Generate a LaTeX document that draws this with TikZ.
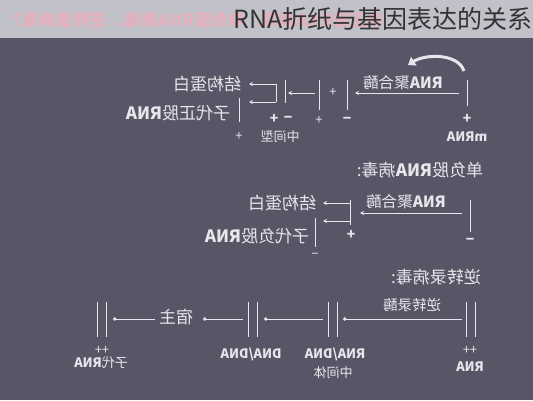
\documentclass[tikz,border=0pt]{standalone}
\usepackage{fontspec}
\setmainfont{Noto Sans CJK SC}
\usetikzlibrary{arrows.meta, positioning}
\definecolor{bgslate}{RGB}{86,86,102}
\definecolor{banner}{RGB}{192,193,201}
\definecolor{pinktxt}{RGB}{228,176,190}
\definecolor{strand}{RGB}{230,230,236}

\tikzset{
  flip/.style={xscale=-1, text=strand, inner sep=1pt},
  lbl/.style={flip, font=\fontsize{17}{17}\selectfont},
  enz/.style={flip, font=\fontsize{15.5}{15.5}\selectfont},
  sml/.style={flip, font=\fontsize{13}{13}\selectfont},
  sgn/.style={flip, font=\bfseries\fontsize{14}{14}\selectfont},
  strandline/.style={draw=strand, line width=0.9pt},
  flow/.style={draw=strand, line width=0.9pt, -{Stealth[length=4pt,width=4pt]}},
  dotflow/.style={draw=strand, line width=0.9pt, -{Circle[length=3.5pt]}},
}

\begin{document}
\begin{tikzpicture}[x=1pt, y=-1pt]
    % 背景
    \fill[bgslate] (0,0) rectangle (533,400);
    \fill[banner] (0,0) rectangle (533,38);
    \useasboundingbox (0,0) rectangle (533,400);
    \node[xscale=-1, anchor=east, inner sep=0, text=pinktxt, font=\bfseries\fontsize{17}{17}\selectfont] (ghost) at (5,20) {单正股RNA病毒、单负股RNA病毒、逆转录病毒？};
    \node[anchor=east, inner sep=0, text=black!80, font=\fontsize{25}{25}\selectfont] (title) at (533,19) {RNA折纸与基因表达的关系};

    % 单正股RNA病毒
    \coordinate (mtop) at (467,80); \coordinate (mbot) at (467,106);
    \draw[strandline] (mtop) -- (mbot);
    \node[sgn] (mplus) at (467,119) {+};
    \node[sml] (mrna) at (467,137) {\textbf{mRNA}};
    \draw[strand, line width=3pt, -{Triangle[length=7pt,width=10pt]}] (464,71) .. controls (458,53) and (425,54) .. (408,65);
    \node[enz] (pol1) at (403,83) {\textbf{RNA}聚合酶};
    \coordinate (p1a) at (459,93); \coordinate (p1b) at (355,93);
    \draw[flow] (p1a) -- (p1b);
    \coordinate (n1t) at (347,80); \coordinate (n1b) at (347,110);
    \draw[strandline] (n1t) -- (n1b);
    \node[sgn] (n1m) at (347,120) {−};
    \node[sml] (mid1) at (333,92) {+};
    \coordinate (p2t) at (319,80); \coordinate (p2b) at (319,110);
    \draw[strandline] (p2t) -- (p2b);
    \node[sml] (p2p) at (319,120) {+};
    \coordinate (p2a) at (315,93); \coordinate (p2c) at (288,93);
    \draw[flow] (p2a) -- (p2c);
    \coordinate (dst) at (285,80); \coordinate (dsb) at (285,103);
    \draw[strandline] (dst) -- (dsb);
    \coordinate (brt) at (276,84); \coordinate (brb) at (276,102);
    \draw[strandline] (brt) -- (brb);
    \node[sgn] (dsp) at (274,119) {+};
    \node[sgn] (dsm) at (288,119) {−};
    \node[sml] (inter1) at (280,137) {中间型};
    \coordinate (s1) at (249,84); \coordinate (s2) at (249,102);
    \draw[flow] (brt) -- (s1);
    \draw[flow] (brb) -- (s2);
    \node[lbl] (prot1) at (207,84) {结构蛋白};
    \coordinate (c1t) at (239,98); \coordinate (c1b) at (239,122);
    \draw[strandline] (c1t) -- (c1b);
    \node[sml] (c1p) at (239,136) {+};
    \node[lbl] (child1) at (178,113) {子代正股\textbf{RNA}};

    % 单负股RNA病毒
    \node[lbl] (head2) at (420,170) {单负股\textbf{RNA}病毒:};
    \node[enz] (pol2) at (406,202) {\textbf{RNA}聚合酶};
    \coordinate (q1a) at (462,213); \coordinate (q1b) at (360,213);
    \draw[flow] (q1a) -- (q1b);
    \coordinate (gt) at (470,200); \coordinate (gb) at (470,232);
    \draw[strandline] (gt) -- (gb);
    \node[sgn] (gm) at (470,241) {−};
    \coordinate (bt) at (350,200); \coordinate (bb) at (350,225);
    \draw[strandline] (bt) -- (bb);
    \node[sgn] (bp) at (351,235) {+};
    \coordinate (b1) at (350,203); \coordinate (b2) at (350,221);
    \coordinate (t1) at (323,203); \coordinate (t2) at (323,221);
    \draw[flow] (b1) -- (t1);
    \draw[flow] (b2) -- (t2);
    \node[lbl] (prot2) at (282,203) {结构蛋白};
    \coordinate (c2t) at (315,218); \coordinate (c2b) at (315,247);
    \draw[strandline] (c2t) -- (c2b);
    \node[sml] (c2m) at (315,256) {−};
    \node[lbl] (child2) at (257,236) {子代负股\textbf{RNA}};

    % 逆转录病毒
    \node[lbl] (head3) at (436,277) {逆转录病毒:};
    \node[flip, font=\fontsize{14.5}{14.5}\selectfont] (rt) at (412,305) {逆转录酶};
    \foreach \x in {466,475} \draw[strandline] (\x,302) -- (\x,337);
    \foreach \x in {328,337} \draw[strandline] (\x,302) -- (\x,337);
    \foreach \x in {248,257} \draw[strandline] (\x,302) -- (\x,337);
    \foreach \x in {97,106} \draw[strandline] (\x,302) -- (\x,337);
    \node[sml] (rpp) at (470,350) {++};
    \node[sml] (rna) at (470,367) {\textbf{RNA}};
    \node[sml] (rd) at (335,354) {\textbf{RNA/DNA}};
    \node[sml] (inter3) at (333,373) {中间体};
    \node[sml] (dd) at (251,354) {\textbf{DNA/DNA}};
    \node[lbl] (host) at (176,317) {宿主};
    \node[sml] (cpp) at (102,350) {++};
    \node[sml] (child3) at (101,363) {子代\textbf{RNA}};
    \coordinate (r1) at (462,319); \coordinate (r2) at (343,319);
    \coordinate (r3) at (323,319); \coordinate (r4) at (264,319);
    \coordinate (r5) at (243,319); \coordinate (r6) at (203,319);
    \coordinate (r7) at (155,319); \coordinate (r8) at (113,319);
    \draw[dotflow] (r1) -- (r2);
    \draw[dotflow] (r3) -- (r4);
    \draw[dotflow] (r5) -- (r6);
    \draw[dotflow] (r7) -- (r8);
\end{tikzpicture}
\end{document}
